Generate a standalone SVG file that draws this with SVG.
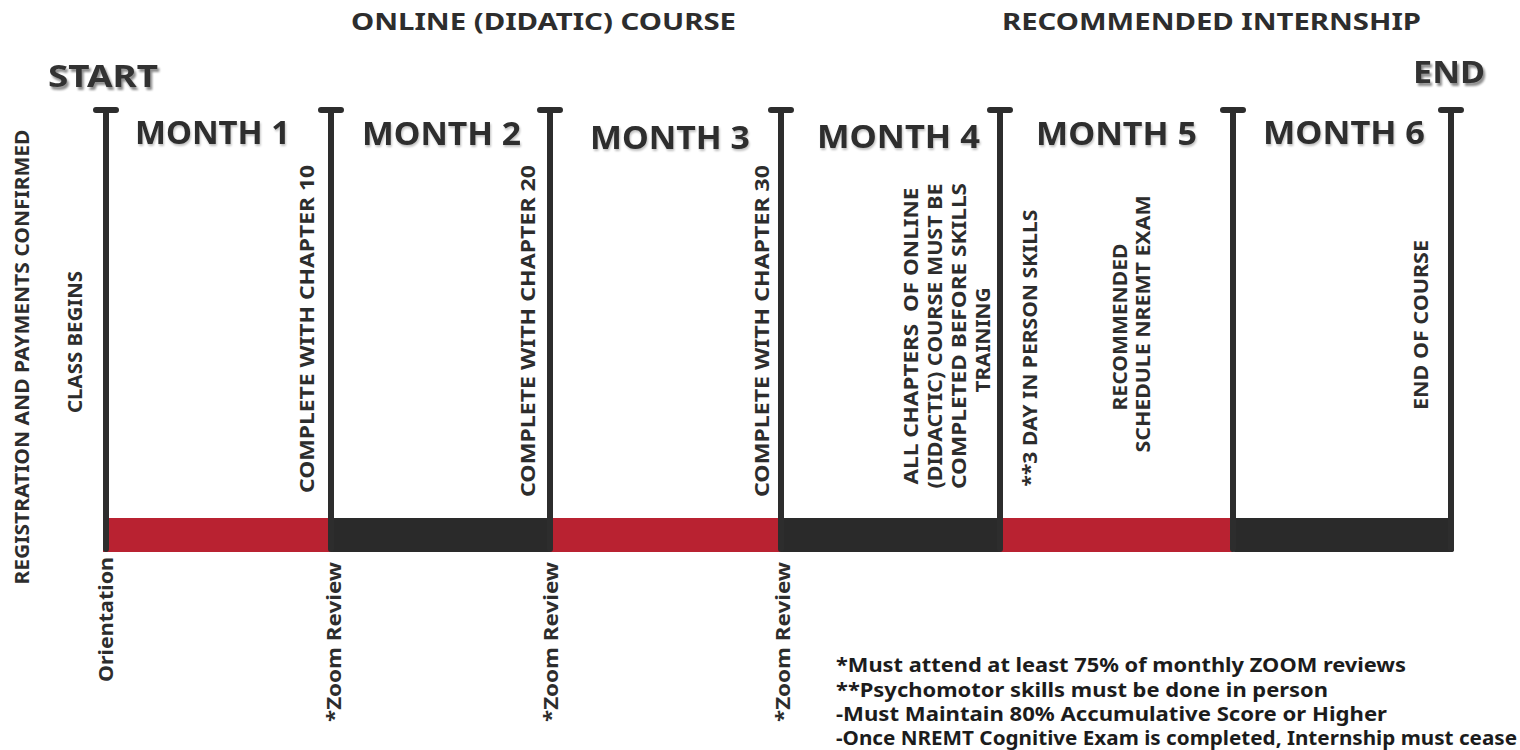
<svg xmlns="http://www.w3.org/2000/svg" width="1520" height="750" viewBox="0 0 1520 750">
  <defs>
    <filter id="shadow" x="-20%" y="-30%" width="140%" height="170%">
      <feGaussianBlur in="SourceAlpha" stdDeviation="1.2"/>
      <feOffset dx="2" dy="3" result="b"/>
      <feComponentTransfer><feFuncA type="linear" slope="0.45"/></feComponentTransfer>
      <feMerge><feMergeNode/><feMergeNode in="SourceGraphic"/></feMerge>
    </filter>
    <filter id="soft" x="-10%" y="-30%" width="120%" height="170%">
      <feGaussianBlur in="SourceAlpha" stdDeviation="0.8"/>
      <feOffset dx="1" dy="1.5" result="b"/>
      <feComponentTransfer><feFuncA type="linear" slope="0.25"/></feComponentTransfer>
      <feMerge><feMergeNode/><feMergeNode in="SourceGraphic"/></feMerge>
    </filter>
  </defs>
  <style>
    text { font-family: "Noto Sans", "Open Sans", "Liberation Sans", sans-serif; fill: #2d2d2d; }
    .hdr { font-size: 24px; font-weight: 700; }
    .big { font-size: 31px; font-weight: 700; fill: #333333; }
    .month { font-size: 32px; font-weight: 700; text-anchor: middle; }
    .vert { font-size: 19px; font-weight: 700; text-anchor: middle; white-space: pre; }
    .low { font-size: 20px; font-weight: 700; text-anchor: end; }
    .note { font-size: 19.5px; font-weight: 700; fill: #1c1c1c; }
    .post { stroke: #2d2d2d; stroke-width: 6; stroke-linecap: round; fill: none; }
    .red { fill: #b92231; }
    .dark { fill: #2a2a2a; }
  </style>

  <rect x="0" y="0" width="1520" height="750" fill="#ffffff"/>

  <g id="headers">
    <text class="hdr" x="543.5" y="30" text-anchor="middle" textLength="385" lengthAdjust="spacingAndGlyphs">ONLINE (DIDATIC) COURSE</text>
    <text class="hdr" x="1211.5" y="30" text-anchor="middle" textLength="419" lengthAdjust="spacingAndGlyphs">RECOMMENDED INTERNSHIP</text>
  </g>

  <g id="start" filter="url(#shadow)">
    <text class="big" x="48" y="87" textLength="110" lengthAdjust="spacingAndGlyphs">START</text>
  </g>
  <g id="end" filter="url(#shadow)">
    <text class="big" x="1413" y="83" textLength="72" lengthAdjust="spacingAndGlyphs">END</text>
  </g>

  <!-- timeline bar segments -->
  <g id="month1">
    <rect class="red" x="103" y="518" width="228" height="34"/>
    <text class="month" x="212.5" y="144" textLength="155" lengthAdjust="spacingAndGlyphs" filter="url(#soft)">MONTH 1</text>
  </g>
  <g id="month2">
    <rect class="dark" x="331" y="518" width="219" height="34"/>
    <text class="month" x="441.5" y="145" textLength="159" lengthAdjust="spacingAndGlyphs" filter="url(#soft)">MONTH 2</text>
  </g>
  <g id="month3">
    <rect class="red" x="550" y="518" width="231" height="34"/>
    <text class="month" x="670" y="149" textLength="160" lengthAdjust="spacingAndGlyphs" filter="url(#soft)">MONTH 3</text>
  </g>
  <g id="month4">
    <rect class="dark" x="781" y="518" width="219" height="34"/>
    <text class="month" x="898.5" y="148" textLength="163" lengthAdjust="spacingAndGlyphs" filter="url(#soft)">MONTH 4</text>
  </g>
  <g id="month5">
    <rect class="red" x="1000" y="518" width="233" height="34"/>
    <text class="month" x="1116.5" y="145" textLength="161" lengthAdjust="spacingAndGlyphs" filter="url(#soft)">MONTH 5</text>
  </g>
  <g id="month6">
    <rect class="dark" x="1233" y="518" width="221" height="34" rx="2"/>
    <text class="month" x="1344" y="144" textLength="162" lengthAdjust="spacingAndGlyphs" filter="url(#soft)">MONTH 6</text>
  </g>

  <!-- milestone posts -->
  <g id="connectors">
    <path class="post" d="M96 110 H116 M106 110 V549"/>
    <path class="post" d="M321 110 H341 M331 110 V549"/>
    <path class="post" d="M540 110 H560 M550 110 V549"/>
    <path class="post" d="M771 110 H791 M781 110 V549"/>
    <path class="post" d="M990 110 H1010 M1000 110 V549"/>
    <path class="post" d="M1223 110 H1243 M1233 110 V549"/>
    <path class="post" d="M1441 110 H1461 M1451 110 V549"/>
  </g>

  <g id="milestone-start">
    <text class="vert" transform="translate(22,357) rotate(-90)" dy="0.36em" textLength="455" lengthAdjust="spacingAndGlyphs">REGISTRATION AND PAYMENTS CONFIRMED</text>
    <text class="vert" transform="translate(75,342) rotate(-90)" dy="0.36em" textLength="142" lengthAdjust="spacingAndGlyphs">CLASS BEGINS</text>
    <text class="low" transform="translate(113,557) rotate(-90)" textLength="125" lengthAdjust="spacingAndGlyphs">Orientation</text>
  </g>

  <g id="milestone-1">
    <text class="vert" transform="translate(307.5,329) rotate(-90)" dy="0.36em" textLength="328" lengthAdjust="spacingAndGlyphs">COMPLETE WITH CHAPTER 10</text>
    <text class="low" transform="translate(341,562) rotate(-90)" textLength="160" lengthAdjust="spacingAndGlyphs">*Zoom Review</text>
  </g>

  <g id="milestone-2">
    <text class="vert" transform="translate(528,331) rotate(-90)" dy="0.36em" textLength="332" lengthAdjust="spacingAndGlyphs">COMPLETE WITH CHAPTER 20</text>
    <text class="low" transform="translate(558,562) rotate(-90)" textLength="160" lengthAdjust="spacingAndGlyphs">*Zoom Review</text>
  </g>

  <g id="milestone-3">
    <text class="vert" transform="translate(762,331) rotate(-90)" dy="0.36em" textLength="332" lengthAdjust="spacingAndGlyphs">COMPLETE WITH CHAPTER 30</text>
    <text class="low" transform="translate(790,562) rotate(-90)" textLength="160" lengthAdjust="spacingAndGlyphs">*Zoom Review</text>
  </g>

  <g id="milestone-4">
    <text class="vert" transform="translate(911,336) rotate(-90)" dy="0.36em" textLength="297" lengthAdjust="spacingAndGlyphs">ALL CHAPTERS  OF ONLINE</text>
    <text class="vert" transform="translate(935,336) rotate(-90)" dy="0.36em" textLength="305" lengthAdjust="spacingAndGlyphs">(DIDACTIC) COURSE MUST BE</text>
    <text class="vert" transform="translate(959,336) rotate(-90)" dy="0.36em" textLength="306" lengthAdjust="spacingAndGlyphs">COMPLETED BEFORE SKILLS</text>
    <text class="vert" transform="translate(983,340) rotate(-90)" dy="0.36em" textLength="105" lengthAdjust="spacingAndGlyphs">TRAINING</text>
  </g>

  <g id="milestone-5">
    <text class="vert" transform="translate(1030,348) rotate(-90)" dy="0.36em" textLength="277" lengthAdjust="spacingAndGlyphs">**3 DAY IN PERSON SKILLS</text>
    <text class="vert" transform="translate(1120,327) rotate(-90)" dy="0.36em" textLength="167" lengthAdjust="spacingAndGlyphs">RECOMMENDED</text>
    <text class="vert" transform="translate(1143,324) rotate(-90)" dy="0.36em" textLength="257" lengthAdjust="spacingAndGlyphs">SCHEDULE NREMT EXAM</text>
  </g>

  <g id="milestone-end">
    <text class="vert" transform="translate(1421,325) rotate(-90)" dy="0.36em" textLength="170" lengthAdjust="spacingAndGlyphs">END OF COURSE</text>
  </g>

  <g id="notes">
    <text class="note" x="836" y="672" textLength="570" lengthAdjust="spacingAndGlyphs">*Must attend at least 75% of monthly ZOOM reviews</text>
    <text class="note" x="836" y="697" textLength="492" lengthAdjust="spacingAndGlyphs">**Psychomotor skills must be done in person</text>
    <text class="note" x="836" y="721" textLength="551" lengthAdjust="spacingAndGlyphs">-Must Maintain 80% Accumulative Score or Higher</text>
    <text class="note" x="836" y="745" textLength="681" lengthAdjust="spacingAndGlyphs">-Once NREMT Cognitive Exam is completed, Internship must cease</text>
  </g>
</svg>
